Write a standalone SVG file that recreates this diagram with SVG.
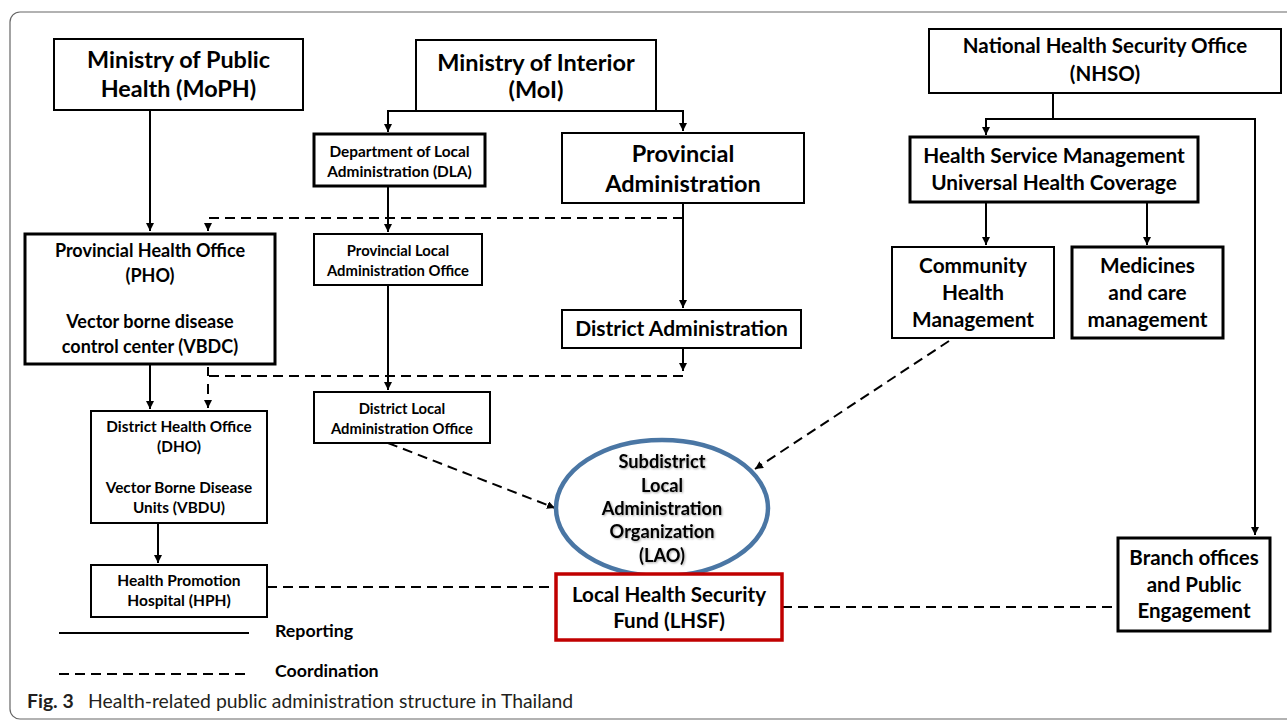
<svg xmlns="http://www.w3.org/2000/svg" width="1287" height="720" viewBox="0 0 1287 720">
  <style>
    .box { fill: #ffffff; stroke: #000000; stroke-width: 2; }
    .thick { stroke-width: 3; }
    .t { font-family: Lato, "Liberation Sans", Arial, sans-serif; font-weight: bold; fill: #000000; text-anchor: middle; }
    .lg { text-anchor: start; }
    .solid { fill: none; stroke: #000000; stroke-width: 2; }
    .dash { fill: none; stroke: #000000; stroke-width: 2; stroke-dasharray: 10 6; }
    .cap { font-family: Lato, "Open Sans", "Liberation Sans", sans-serif; fill: #231f20; font-size: 19.4px; }
  </style>
  <defs>
    <marker id="arrow" markerUnits="userSpaceOnUse" markerWidth="10" markerHeight="10" refX="8" refY="4" orient="auto">
      <path d="M0,0 L8,4 L0,8 z" fill="#000000"/>
    </marker>
    <filter id="soft" x="-10%" y="-20%" width="120%" height="140%">
      <feDropShadow dx="1" dy="1" stdDeviation="0.8" flood-color="#000000" flood-opacity="0.35"/>
    </filter>
  </defs>

  <rect width="1287" height="720" fill="#ffffff"/>
  <!-- figure frame -->
  <rect x="10" y="12" width="1300" height="707" rx="10" fill="none" stroke="#666666" stroke-width="1.2"/>

  <!-- connectors -->
  <g id="connectors">
    <!-- reporting lines -->
    <path class="solid" d="M150,110 V231" marker-end="url(#arrow)"/>
    <path class="solid" d="M416,111 H388 V132" marker-end="url(#arrow)"/>
    <path class="solid" d="M656,111 H683 V131" marker-end="url(#arrow)"/>
    <path class="solid" d="M388,186 V232" marker-end="url(#arrow)"/>
    <path class="solid" d="M388,285 V390" marker-end="url(#arrow)"/>
    <path class="solid" d="M683,203 V308" marker-end="url(#arrow)"/>
    <path class="solid" d="M683,348 V371" marker-end="url(#arrow)"/>
    <path class="solid" d="M150,364 V409" marker-end="url(#arrow)"/>
    <path class="solid" d="M158,523 V563" marker-end="url(#arrow)"/>
    <path class="solid" d="M1053,93 V119"/>
    <path class="solid" d="M1053,119 H986 V135" marker-end="url(#arrow)"/>
    <path class="solid" d="M1053,119 H1255 V535" marker-end="url(#arrow)"/>
    <path class="solid" d="M986,202 V245" marker-end="url(#arrow)"/>
    <path class="solid" d="M1147,202 V245" marker-end="url(#arrow)"/>
    <!-- coordination lines -->
    <path class="dash" d="M683,218 H208 V231" marker-end="url(#arrow)"/>
    <path class="dash" d="M683,376 H208"/>
    <path class="solid" d="M208,376 V367"/>
    <path class="dash" d="M208,384 V408" marker-end="url(#arrow)"/>
    <path class="dash" d="M388,443 L555,508" marker-end="url(#arrow)"/>
    <path class="dash" d="M949,341 L755,469" marker-end="url(#arrow)"/>
    <path class="dash" d="M267,587 H556"/>
    <path class="dash" d="M782,607 H1117"/>
  </g>

  <g id="moph">
    <rect class="box" x="54" y="39" width="249" height="71"/>
    <text class="t" font-size="23.4" x="178.5" y="68">Ministry of Public</text>
    <text class="t" font-size="23.4" x="178.5" y="97">Health (MoPH)</text>
  </g>

  <g id="moi">
    <rect class="box" x="416" y="40" width="240" height="71"/>
    <text class="t" font-size="23.5" x="536" y="71">Ministry of Interior</text>
    <text class="t" font-size="23.5" x="536" y="98">(MoI)</text>
  </g>

  <g id="dla">
    <rect class="box thick" x="314" y="134" width="171" height="52"/>
    <text class="t" font-size="15.4" x="399.5" y="157">Department of Local</text>
    <text class="t" font-size="15.4" x="399.5" y="177">Administration (DLA)</text>
  </g>

  <g id="provincial-administration">
    <rect class="box" x="562" y="133" width="242" height="70"/>
    <text class="t" font-size="23.5" x="683" y="162">Provincial</text>
    <text class="t" font-size="23.5" x="683" y="192">Administration</text>
  </g>

  <g id="nhso">
    <rect class="box" x="929" y="29" width="352" height="64"/>
    <text class="t" font-size="20.5" x="1105" y="53">National Health Security Office</text>
    <text class="t" font-size="20.5" x="1105" y="81">(NHSO)</text>
  </g>

  <g id="hsm-uhc">
    <rect class="box thick" x="910" y="137" width="288" height="65"/>
    <text class="t" font-size="20.8" x="1054" y="163">Health Service Management</text>
    <text class="t" font-size="20.8" x="1054" y="190">Universal Health Coverage</text>
  </g>

  <g id="community-health">
    <rect class="box" x="892" y="247" width="162" height="91"/>
    <text class="t" font-size="20.8" x="973" y="273">Community</text>
    <text class="t" font-size="20.8" x="973" y="300">Health</text>
    <text class="t" font-size="20.8" x="973" y="327">Management</text>
  </g>

  <g id="medicines">
    <rect class="box thick" x="1072" y="247" width="151" height="91"/>
    <text class="t" font-size="20.8" x="1147.5" y="273">Medicines</text>
    <text class="t" font-size="20.8" x="1147.5" y="300">and care</text>
    <text class="t" font-size="20.8" x="1147.5" y="327">management</text>
  </g>

  <g id="pho">
    <rect class="box thick" x="25" y="234" width="250" height="130"/>
    <text class="t" font-size="18" x="150" y="257">Provincial Health Office</text>
    <text class="t" font-size="18" x="150" y="282">(PHO)</text>
    <text class="t" font-size="18" x="150" y="328">Vector borne disease</text>
    <text class="t" font-size="18" x="150" y="353">control center (VBDC)</text>
  </g>

  <g id="plao">
    <rect class="box" x="314" y="234" width="168" height="51"/>
    <text class="t" font-size="14.8" x="398" y="256">Provincial Local</text>
    <text class="t" font-size="14.8" x="398" y="276">Administration Office</text>
  </g>

  <g id="district-administration">
    <rect class="box" x="562" y="310" width="239" height="38"/>
    <text class="t" font-size="21" x="681.5" y="336">District Administration</text>
  </g>

  <g id="dlao">
    <rect class="box" x="314" y="392" width="176" height="51"/>
    <text class="t" font-size="14.8" x="402" y="414">District Local</text>
    <text class="t" font-size="14.8" x="402" y="434">Administration Office</text>
  </g>

  <g id="dho">
    <rect class="box" x="91" y="411" width="176" height="112"/>
    <text class="t" font-size="15.3" x="179" y="432">District Health Office</text>
    <text class="t" font-size="15.3" x="179" y="452">(DHO)</text>
    <text class="t" font-size="15.3" x="179" y="493">Vector Borne Disease</text>
    <text class="t" font-size="15.3" x="179" y="513">Units (VBDU)</text>
  </g>

  <g id="hph">
    <rect class="box" x="91" y="565" width="176" height="52"/>
    <text class="t" font-size="15.5" x="179" y="586">Health Promotion</text>
    <text class="t" font-size="15.5" x="179" y="606">Hospital (HPH)</text>
  </g>

  <g id="lao">
    <ellipse cx="662" cy="508" rx="106" ry="68" fill="#ffffff" stroke="#4a76a4" stroke-width="4.5"/>
    <g filter="url(#soft)">
      <text class="t" font-size="18.2" x="662" y="468">Subdistrict</text>
      <text class="t" font-size="18.2" x="662" y="492">Local</text>
      <text class="t" font-size="18.2" x="662" y="515">Administration</text>
      <text class="t" font-size="18.2" x="662" y="538">Organization</text>
      <text class="t" font-size="18.2" x="662" y="562">(LAO)</text>
    </g>
  </g>

  <g id="lhsf">
    <rect x="556" y="574" width="226" height="66" fill="#ffffff" stroke="#c00000" stroke-width="3.5"/>
    <text class="t" font-size="20.6" x="669" y="602">Local Health Security</text>
    <text class="t" font-size="20.6" x="669" y="628">Fund (LHSF)</text>
  </g>

  <g id="branch-offices">
    <rect class="box thick" x="1118" y="538" width="152" height="93"/>
    <text class="t" font-size="20.5" x="1194" y="565">Branch offices</text>
    <text class="t" font-size="20.5" x="1194" y="592">and Public</text>
    <text class="t" font-size="20.5" x="1194" y="618">Engagement</text>
  </g>

  <g id="legend">
    <path class="solid" d="M59,633 H249"/>
    <text class="t lg" font-size="17.8" x="275" y="637">Reporting</text>
    <path class="dash" d="M59,674 H249"/>
    <text class="t lg" font-size="17.8" x="275" y="677">Coordination</text>
  </g>

  <text class="cap" x="27" y="708"><tspan font-weight="bold">Fig. 3</tspan><tspan x="88">Health-related public administration structure in Thailand</tspan></text>
</svg>
